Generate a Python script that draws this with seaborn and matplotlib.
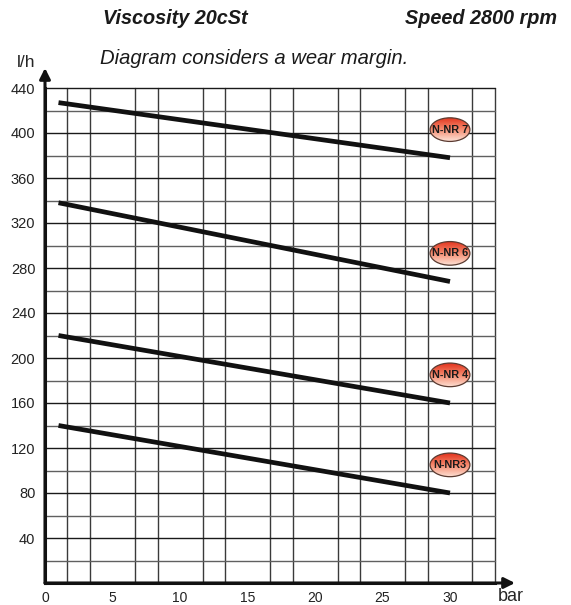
"""
Pump capacity diagram (l/h vs bar) for N-NR pumps
"""
import matplotlib
matplotlib.use("Agg")
import matplotlib.pyplot as plt
from matplotlib.patches import Ellipse
from matplotlib.colors import LinearSegmentedColormap
import seaborn as sns
import numpy as np
import pandas as pd

# データ
pumps = ["N-NR 7", "N-NR 6", "N-NR 4", "N-NR3"]
pressure = [1, 30]                       # bar
flow_start = [427, 338, 220, 140]        # l/h at 1 bar
flow_end = [378, 268, 160, 80]           # l/h at 30 bar
badge_x = [30, 30, 30, 30]
badge_y = [403, 293, 185, 105]

x_ticks = [0, 5, 10, 15, 20, 25, 30]
y_ticks = [40, 80, 120, 160, 200, 240, 280, 320, 360, 400, 440]

sns.set_style("white")
plt.rcParams['font.family'] = ['Liberation Sans', 'DejaVu Sans']

rows = []
for name, a, b in zip(pumps, flow_start, flow_end):
    rows.append({"pump": name, "bar": pressure[0], "flow": a})
    rows.append({"pump": name, "bar": pressure[1], "flow": b})
df = pd.DataFrame(rows)

W, H = 571, 605
fig = plt.figure(figsize=(W / 100, H / 100), dpi=100)
ax = fig.add_axes([45 / W, (H - 583) / H, 450 / W, 495 / H])

x_max = 100 / 3
ax.set_xlim(0, x_max)
ax.set_ylim(0, 440)

# グリッド
ax.set_xticks(x_ticks)
ax.set_xticks(np.arange(0, x_max + 0.01, 5 / 3), minor=True)
ax.set_yticks(y_ticks)
ax.set_yticks(np.arange(0, 441, 20), minor=True)
ax.grid(which='minor', axis='x', color='#3a3a3a', lw=1.0, clip_on=False)
ax.grid(which='minor', axis='y', color='#606060', lw=1.0, clip_on=False)
ax.grid(which='major', axis='y', color='#1a1a1a', lw=1.0, clip_on=False)
ax.set_axisbelow(True)

sns.lineplot(data=df, x='bar', y='flow', hue='pump', hue_order=pumps,
             palette=['#111111'] * len(pumps), lw=3.4, legend=False, ax=ax,
             solid_capstyle='butt')

# ラベル楕円
cmap = LinearSegmentedColormap.from_list('badge', ['#e3321c', '#f58a6e', '#fde0d4'])
grad = np.linspace(0, 1, 64).reshape(-1, 1)
bw, bh = 2.95, 21.0
for name, bx, by in zip(pumps, badge_x, badge_y):
    ell = Ellipse((bx, by), bw, bh, facecolor='none', edgecolor='#5a3a30',
                  lw=0.9, zorder=6)
    ax.add_patch(ell)
    im = ax.imshow(grad, cmap=cmap, aspect='auto', zorder=5,
                   extent=[bx - bw / 2, bx + bw / 2, by - bh / 2, by + bh / 2])
    im.set_clip_path(ell)
    ax.text(bx, by, name, ha='center', va='center', fontsize=7.8,
            fontweight='bold', color='#1a1a1a', zorder=7,
            family=['Liberation Sans Narrow', 'Liberation Sans'])
ax.set_xlim(0, x_max)
ax.set_ylim(0, 440)

# 軸
sns.despine(ax=ax, top=True, right=True)
for side in ['left', 'bottom']:
    ax.spines[side].set_linewidth(2.2)
    ax.spines[side].set_color('#111111')
ax.tick_params(which='both', length=0)
ax.tick_params(axis='x', pad=6, labelsize=10, labelcolor='#222222')
ax.tick_params(axis='y', pad=7, labelsize=10.5, labelcolor='#222222')
ax.set_xlabel('')
ax.set_ylabel('')

ax.annotate('', xy=(515 / W, (H - 583) / H), xytext=(45 / W, (H - 583) / H),
            xycoords='figure fraction', textcoords='figure fraction',
            arrowprops=dict(arrowstyle='-|>', lw=2.2, color='#111111',
                            mutation_scale=16, shrinkA=0, shrinkB=0))
ax.annotate('', xy=(45 / W, (H - 68) / H), xytext=(45 / W, (H - 583) / H),
            xycoords='figure fraction', textcoords='figure fraction',
            arrowprops=dict(arrowstyle='-|>', lw=2.2, color='#111111',
                            mutation_scale=16, shrinkA=0, shrinkB=0))

fig.text(17 / W, 1 - 67 / H, 'l/h', fontsize=12.5, va='baseline', ha='left')
fig.text(498 / W, 1 - 601 / H, 'bar', fontsize=13, va='baseline', ha='left')

# 見出し
fig.text(103 / W, 1 - 24 / H, 'Viscosity 20cSt', fontsize=14.3,
         fontweight='bold', style='italic', va='baseline', ha='left', color='#1a1a1a')
fig.text(557 / W, 1 - 24 / H, 'Speed 2800 rpm', fontsize=14.3,
         fontweight='bold', style='italic', va='baseline', ha='right', color='#1a1a1a')
fig.text(100 / W, 1 - 64 / H, 'Diagram considers a wear margin.', fontsize=14.6,
         style='italic', va='baseline', ha='left', color='#1a1a1a')

fig.savefig('out.png', dpi=100)
